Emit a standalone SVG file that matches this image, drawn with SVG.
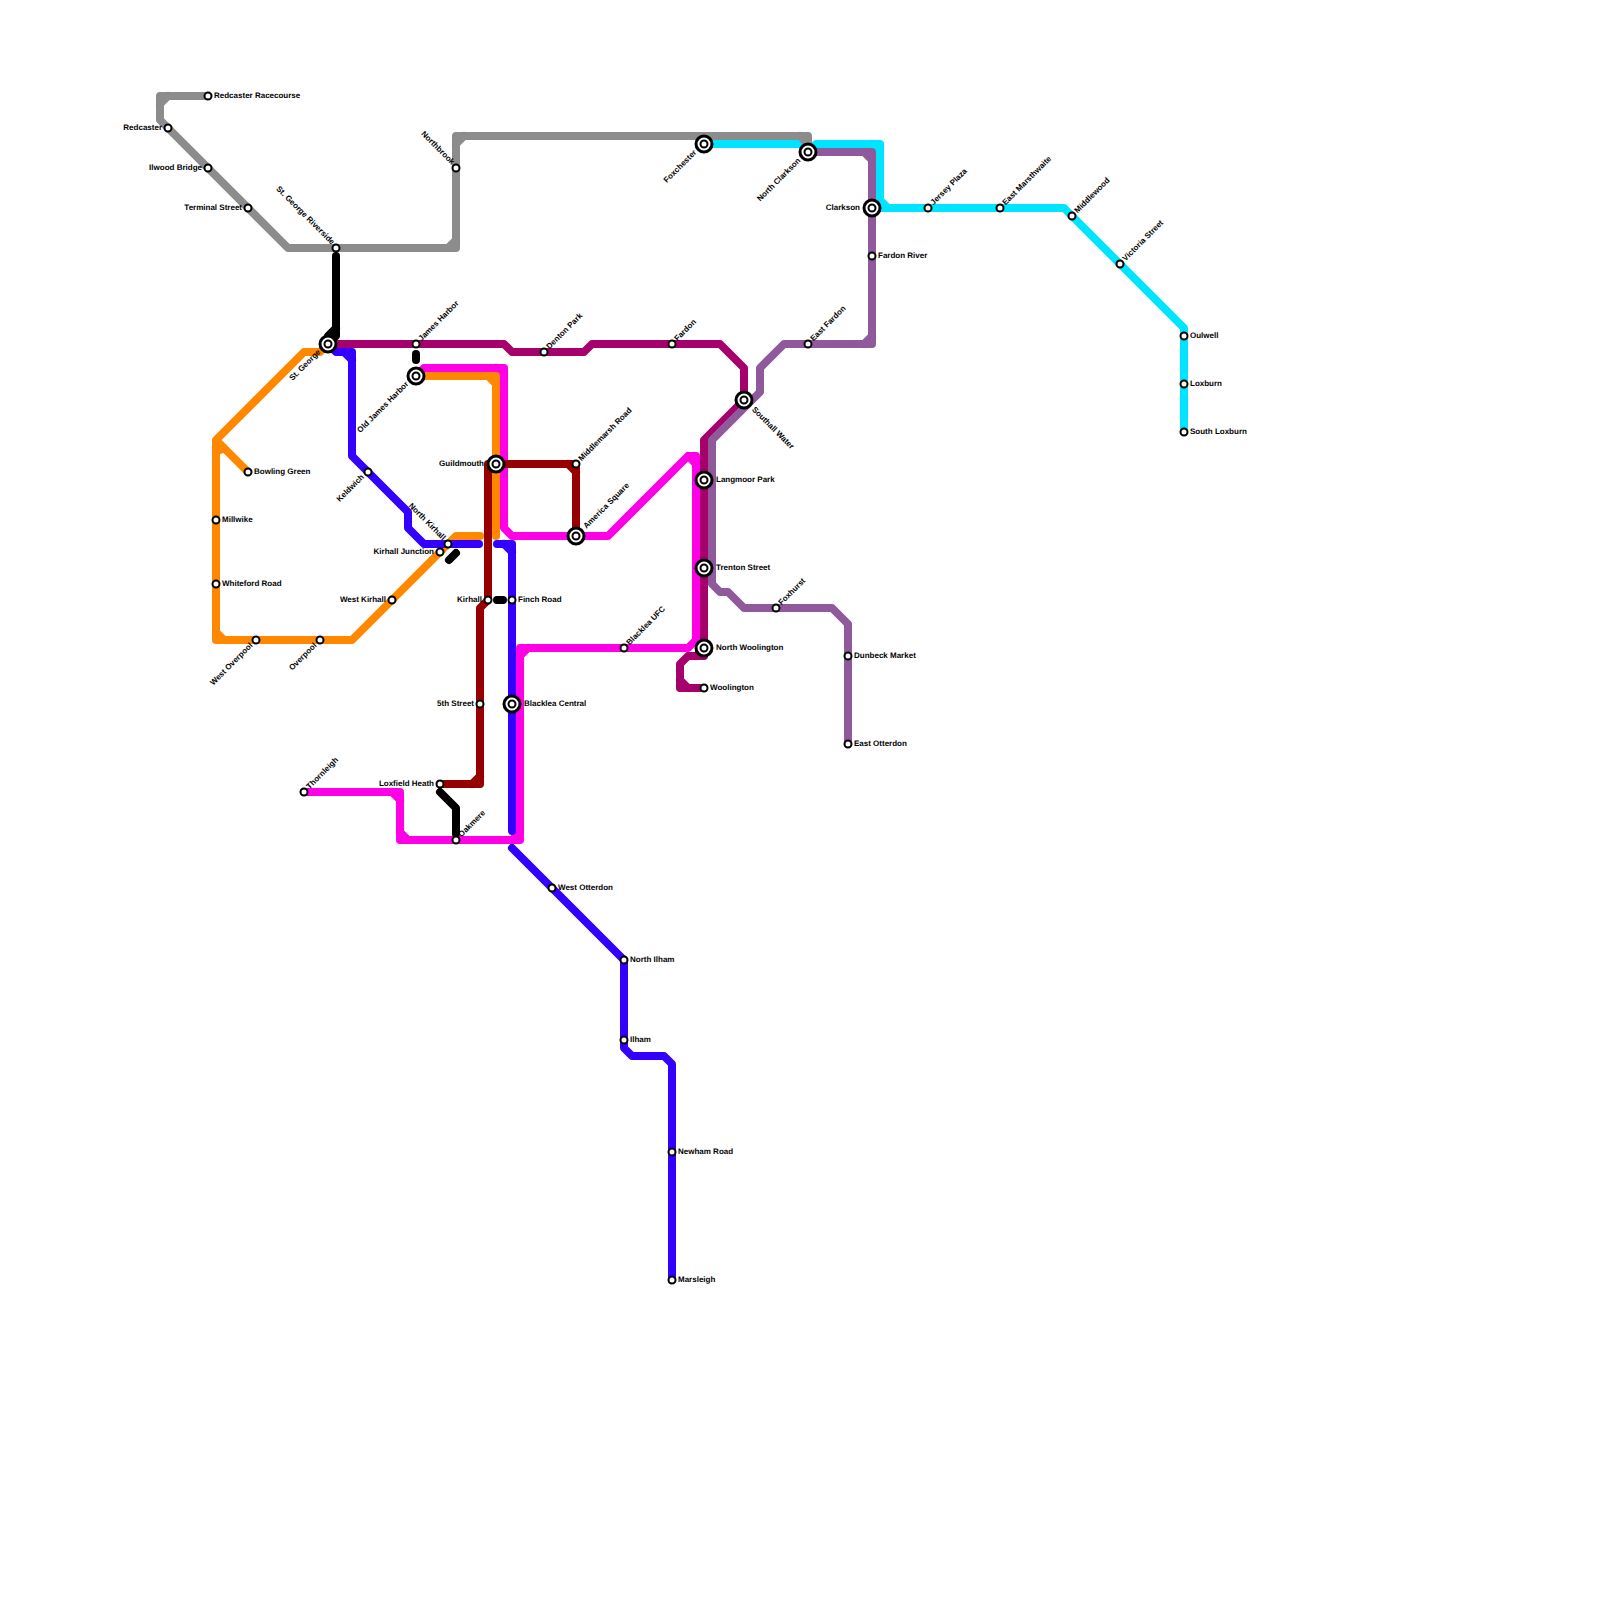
<svg xmlns="http://www.w3.org/2000/svg" width="1600" height="1600" viewBox="0 0 1600 1600">
<style>
.l{fill:none;stroke-width:8;stroke-linecap:round;stroke-linejoin:round}
.s{fill:#fff;stroke:#000;stroke-width:2}
.o{fill:#fff;stroke:#000;stroke-width:3}
text{font-family:"Liberation Sans",Arial,sans-serif;font-size:8px;font-weight:700;fill:#000;text-rendering:geometricPrecision}
.e{text-anchor:end}
</style>
<defs>
<g id="big"><circle r="8" class="o"/><circle r="3.5" class="s"/></g>
<circle id="small" r="3.5" class="s"/>
</defs>
<rect width="1600" height="1600" fill="#fff"/>
<g id="connectors">
<path class="l" stroke="#00e5ff" d="M704,144L808,144M808,152L816,144L880,144L880,200L888,208L1064,208L1184,328L1184,432M872,208L888,208M872,144L880,152"/>
<path class="l" stroke="#8c8c8c" d="M208,96L160,96L160,120L288,248L456,248L456,136L808,136L808,152M168,96L160,104M448,248L456,240M456,144L464,136M800,136L808,144"/>
<path class="l" stroke="#ff00e6" d="M304,792L400,792L400,840L520,840L520,648L688,648L696,640L696,456L688,456L608,536L512,536L504,528L504,368L424,368L416,376M392,792L400,800M400,832L408,840M512,840L520,832M520,656L528,648M688,456L696,464M496,368L504,376"/>
<path class="l" stroke="#ff8800" d="M328,344L320,352L304,352L216,440L216,640L352,640L456,536L480,536M216,632L224,640M248,472L216,440L216,460M216,452L224,448"/>
<path class="l" stroke="#ff8800" d="M416,376L496,376L496,536M488,376L496,384"/>
<path class="l" stroke="#3300ff" d="M328,344L336,352L352,352L352,456L408,512L408,528L424,544L479,544M344,352L352,360M497,544L512,544L512,831M504,544L512,552M512,848L624,960L624,1048L632,1056L664,1056L672,1064L672,1280"/>
<path class="l" stroke="#980000" d="M440,784L480,784L480,608L488,600L488,464L576,464L576,536M568,464L576,472M472,784L480,776"/>
<path class="l" stroke="#a5006b" d="M328,344L504,344L512,352L584,352L592,344L720,344L744,368L744,400L704,440L704,656L688,656L680,664L680,688L704,688M704,648L696,656M680,680L688,688"/>
<path class="l" stroke="#8e5a9b" d="M808,152L872,152L872,344L784,344L760,368L760,392L712,440L712,584L720,592L728,592L744,608L832,608L848,624L848,744M864,152L872,160M872,336L864,344"/>
<path class="l" stroke="#000" d="M336,256L336,336L328,344M336,328L328,336M416,354L416,360M497,600L503,600M449,560L456,553M440,792L456,808L456,834"/>
</g>
<g id="n-redcaster-racecourse"><use href="#small" x="208" y="96"/><text x="214" y="97.5">Redcaster Racecourse</text></g>
<g id="n-redcaster"><use href="#small" x="168" y="128"/><text class="e" x="162" y="129.5">Redcaster</text></g>
<g id="n-ilwood-bridge"><use href="#small" x="208" y="168"/><text class="e" x="202" y="169.5">Ilwood Bridge</text></g>
<g id="n-terminal-street"><use href="#small" x="248" y="208"/><text class="e" x="242" y="209.5">Terminal Street</text></g>
<g id="n-st-george-riverside"><use href="#small" x="336" y="248"/><text class="e" transform="translate(331.5,245) rotate(45)">St. George Riverside</text></g>
<g id="n-northbrook"><use href="#small" x="456" y="168"/><text class="e" transform="translate(451.5,165) rotate(45)">Northbrook</text></g>
<g id="n-st-george"><use href="#big" x="328" y="344"/><text class="e" transform="translate(321,352.5) rotate(-45)">St. George</text></g>
<g id="n-james-harbor"><use href="#small" x="416" y="344"/><text transform="translate(421.5,341.5) rotate(-45)">James Harbor</text></g>
<g id="n-old-james-harbor"><use href="#big" x="416" y="376"/><text class="e" transform="translate(409,384.5) rotate(-45)">Old James Harbor</text></g>
<g id="n-denton-park"><use href="#small" x="544" y="352"/><text transform="translate(549.5,349.5) rotate(-45)">Denton Park</text></g>
<g id="n-fardon"><use href="#small" x="672" y="344"/><text transform="translate(677.5,341.5) rotate(-45)">Fardon</text></g>
<g id="n-east-fardon"><use href="#small" x="808" y="344"/><text transform="translate(813.5,341.5) rotate(-45)">East Fardon</text></g>
<g id="n-foxhurst"><use href="#small" x="776" y="608"/><text transform="translate(781.5,605.5) rotate(-45)">Foxhurst</text></g>
<g id="n-blacklea-ufc"><use href="#small" x="624" y="648"/><text transform="translate(629.5,645.5) rotate(-45)">Blacklea UFC</text></g>
<g id="n-middlemarsh-road"><use href="#small" x="576" y="464"/><text transform="translate(581.5,461.5) rotate(-45)">Middlemarsh Road</text></g>
<g id="n-america-square"><use href="#big" x="576" y="536"/><text transform="translate(586.5,529) rotate(-45)">America Square</text></g>
<g id="n-thornleigh"><use href="#small" x="304" y="792"/><text transform="translate(309.5,789.5) rotate(-45)">Thornleigh</text></g>
<g id="n-oakmere"><use href="#small" x="456" y="840"/><text transform="translate(461.5,837.5) rotate(-45)">Oakmere</text></g>
<g id="n-jersey-plaza"><use href="#small" x="928" y="208"/><text transform="translate(933.5,205.5) rotate(-45)">Jersey Plaza</text></g>
<g id="n-east-marsthwaite"><use href="#small" x="1000" y="208"/><text transform="translate(1005.5,205.5) rotate(-45)">East Marsthwaite</text></g>
<g id="n-middlewood"><use href="#small" x="1072" y="216"/><text transform="translate(1077.5,213.5) rotate(-45)">Middlewood</text></g>
<g id="n-victoria-street"><use href="#small" x="1120" y="264"/><text transform="translate(1125.5,261.5) rotate(-45)">Victoria Street</text></g>
<g id="n-keldwich"><use href="#small" x="368" y="472"/><text class="e" transform="translate(364.5,477.5) rotate(-45)">Keldwich</text></g>
<g id="n-west-overpool"><use href="#small" x="256" y="640"/><text class="e" transform="translate(253,646) rotate(-45)">West Overpool</text></g>
<g id="n-overpool"><use href="#small" x="320" y="640"/><text class="e" transform="translate(317,646) rotate(-45)">Overpool</text></g>
<g id="n-foxchester"><use href="#big" x="704" y="144"/><text class="e" transform="translate(697,153) rotate(-45)">Foxchester</text></g>
<g id="n-north-clarkson"><use href="#big" x="808" y="152"/><text class="e" transform="translate(801,161) rotate(-45)">North Clarkson</text></g>
<g id="n-north-kirhall"><use href="#small" x="448" y="544"/><text class="e" transform="translate(442.5,540.5) rotate(45)">North Kirhall</text></g>
<g id="n-southall-water"><use href="#big" x="744" y="400"/><text transform="translate(751.5,410) rotate(45)">Southall Water</text></g>
<g id="n-kirhall-junction"><use href="#small" x="440" y="552"/><text class="e" x="434" y="553.5">Kirhall Junction</text></g>
<g id="n-west-kirhall"><use href="#small" x="392" y="600"/><text class="e" x="386" y="601.5">West Kirhall</text></g>
<g id="n-kirhall"><use href="#small" x="488" y="600"/><text class="e" x="482" y="601.5">Kirhall</text></g>
<g id="n-5th-street"><use href="#small" x="480" y="704"/><text class="e" x="474" y="705.5">5th Street</text></g>
<g id="n-loxfield-heath"><use href="#small" x="440" y="784"/><text class="e" x="434" y="785.5">Loxfield Heath</text></g>
<g id="n-guildmouth"><use href="#big" x="496" y="464"/><text class="e" x="484" y="465.5">Guildmouth</text></g>
<g id="n-clarkson"><use href="#big" x="872" y="208"/><text class="e" x="860" y="209.5">Clarkson</text></g>
<g id="n-bowling-green"><use href="#small" x="248" y="472"/><text x="254" y="473.5">Bowling Green</text></g>
<g id="n-millwike"><use href="#small" x="216" y="520"/><text x="222" y="521.5">Millwike</text></g>
<g id="n-whiteford-road"><use href="#small" x="216" y="584"/><text x="222" y="585.5">Whiteford Road</text></g>
<g id="n-finch-road"><use href="#small" x="512" y="600"/><text x="518" y="601.5">Finch Road</text></g>
<g id="n-blacklea-central"><use href="#big" x="512" y="704"/><text x="524" y="705.5">Blacklea Central</text></g>
<g id="n-langmoor-park"><use href="#big" x="704" y="480"/><text x="716" y="481.5">Langmoor Park</text></g>
<g id="n-trenton-street"><use href="#big" x="704" y="568"/><text x="716" y="569.5">Trenton Street</text></g>
<g id="n-north-woolington"><use href="#big" x="704" y="648"/><text x="716" y="649.5">North Woolington</text></g>
<g id="n-woolington"><use href="#small" x="704" y="688"/><text x="710" y="689.5">Woolington</text></g>
<g id="n-dunbeck-market"><use href="#small" x="848" y="656"/><text x="854" y="657.5">Dunbeck Market</text></g>
<g id="n-east-otterdon"><use href="#small" x="848" y="744"/><text x="854" y="745.5">East Otterdon</text></g>
<g id="n-fardon-river"><use href="#small" x="872" y="256"/><text x="878" y="257.5">Fardon River</text></g>
<g id="n-west-otterdon"><use href="#small" x="552" y="888"/><text x="558" y="889.5">West Otterdon</text></g>
<g id="n-north-ilham"><use href="#small" x="624" y="960"/><text x="630" y="961.5">North Ilham</text></g>
<g id="n-ilham"><use href="#small" x="624" y="1040"/><text x="630" y="1041.5">Ilham</text></g>
<g id="n-newham-road"><use href="#small" x="672" y="1152"/><text x="678" y="1153.5">Newham Road</text></g>
<g id="n-marsleigh"><use href="#small" x="672" y="1280"/><text x="678" y="1281.5">Marsleigh</text></g>
<g id="n-oulwell"><use href="#small" x="1184" y="336"/><text x="1190" y="337.5">Oulwell</text></g>
<g id="n-loxburn"><use href="#small" x="1184" y="384"/><text x="1190" y="385.5">Loxburn</text></g>
<g id="n-south-loxburn"><use href="#small" x="1184" y="432"/><text x="1190" y="433.5">South Loxburn</text></g>
</svg>
